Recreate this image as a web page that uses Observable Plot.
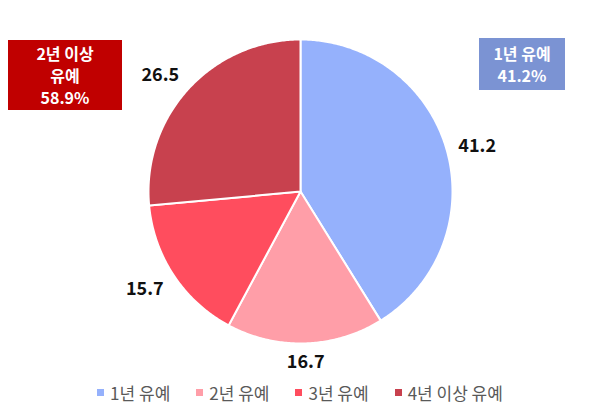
<!DOCTYPE html>
<html>
<head>
<meta charset="utf-8">
<script src="https://cdn.jsdelivr.net/npm/d3@7"></script>
<script src="https://cdn.jsdelivr.net/npm/@observablehq/plot@0.6"></script>
<style>
  html, body { margin: 0; padding: 0; background: #fff; }
  #wrap { position: relative; width: 600px; height: 420px; font-family: "Noto Sans CJK KR", "Noto Sans", sans-serif; }
  .box { position: absolute; color: #fff; font-weight: bold; font-size: 16px; line-height: 22px; text-align: center; box-sizing: border-box; }
  #legend { position: absolute; left: 0; top: 380px; width: 600px; display: flex; justify-content: center; gap: 26px; font-size: 17px; color: #595959; }
  #legend .item { display: flex; align-items: center; gap: 6px; }
  #legend .sw { width: 7px; height: 7px; display: inline-block; }
</style>
</head>
<body>
<div id="wrap"></div>
<script>
const categories = ["1년 유예", "2년 유예", "3년 유예", "4년 이상 유예"];
const values = [41.2, 16.7, 15.7, 26.5];
const colors = ["#95B1FC", "#FF9EA8", "#FF4D5E", "#C8414E"];
const valueLabels = ["41.2", "16.7", "15.7", "26.5"];

const W = 600, H = 375;
const pie = d3.pie().sort(null).value(d => d.value)(categories.map((c, i) => ({cat: c, value: values[i]})));

// slice outlines in unit-circle coordinates (angle measured clockwise from top)
const pts = [];
pie.forEach(s => {
  const cat = s.data.cat;
  pts.push({cat, x: 0, y: 0});
  const n = Math.max(2, Math.ceil((s.endAngle - s.startAngle) / 0.01));
  for (let k = 0; k <= n; k++) {
    const a = s.startAngle + (s.endAngle - s.startAngle) * k / n;
    pts.push({cat, x: Math.sin(a), y: Math.cos(a)});
  }
  pts.push({cat, x: 0, y: 0});
});

const labelR = 1.08;
const labels = pie.map((s, i) => {
  const a = (s.startAngle + s.endAngle) / 2;
  const sx = Math.sin(a), cy = Math.cos(a);
  return {
    text: valueLabels[i],
    x: labelR * sx, y: labelR * cy,
    ta: sx > 0.3 ? "start" : sx < -0.3 ? "end" : "middle",
    la: cy > 0.5 ? "bottom" : cy < -0.5 ? "top" : "middle"
  };
});

const cx = 300, cyPx = 191, R = 152;
const plot = Plot.plot({
  width: W, height: H,
  margin: 0,
  x: {domain: [-cx / R, (W - cx) / R], range: [0, W], axis: null},
  y: {domain: [-(H - cyPx) / R, cyPx / R], range: [H, 0], axis: null},
  color: {domain: categories, range: colors},
  style: {fontFamily: '"Noto Sans CJK KR", "Noto Sans", sans-serif', background: "#fff"},
  marks: [
    Plot.line(pts, {x: "x", y: "y", z: "cat", fill: "cat", stroke: "#fff", strokeWidth: 2, strokeLinejoin: "round", curve: "linear"}),
    ...["start", "end", "middle"].flatMap(ta => ["top", "bottom", "middle"].map(la =>
      Plot.text(labels.filter(d => d.ta === ta && d.la === la), {
        x: "x", y: "y", text: "text", textAnchor: ta, lineAnchor: la,
        fontSize: 18, fontWeight: "bold", fill: "#111"
      })
    ))
  ]
});

const wrap = document.getElementById("wrap");
wrap.appendChild(plot);

const pct = v => d3.format(".1f")(v) + "%";
const b1 = document.createElement("div");
b1.className = "box";
b1.style.cssText = "left:8px;top:40px;width:114px;height:70px;background:#C00000;padding-top:2px;";
b1.innerHTML = "2년 이상<br>유예<br>" + pct(d3.sum(values.slice(1)));
wrap.appendChild(b1);

const b2 = document.createElement("div");
b2.className = "box";
b2.style.cssText = "left:479px;top:38px;width:86px;height:52px;background:#7B93D3;padding-top:4px;";
b2.innerHTML = categories[0] + "<br>" + pct(values[0]);
wrap.appendChild(b2);

const legend = document.createElement("div");
legend.id = "legend";
categories.forEach((c, i) => {
  const it = document.createElement("span");
  it.className = "item";
  it.innerHTML = `<span class="sw" style="background:${colors[i]}"></span><span>${c}</span>`;
  legend.appendChild(it);
});
wrap.appendChild(legend);
</script>
</body>
</html>
